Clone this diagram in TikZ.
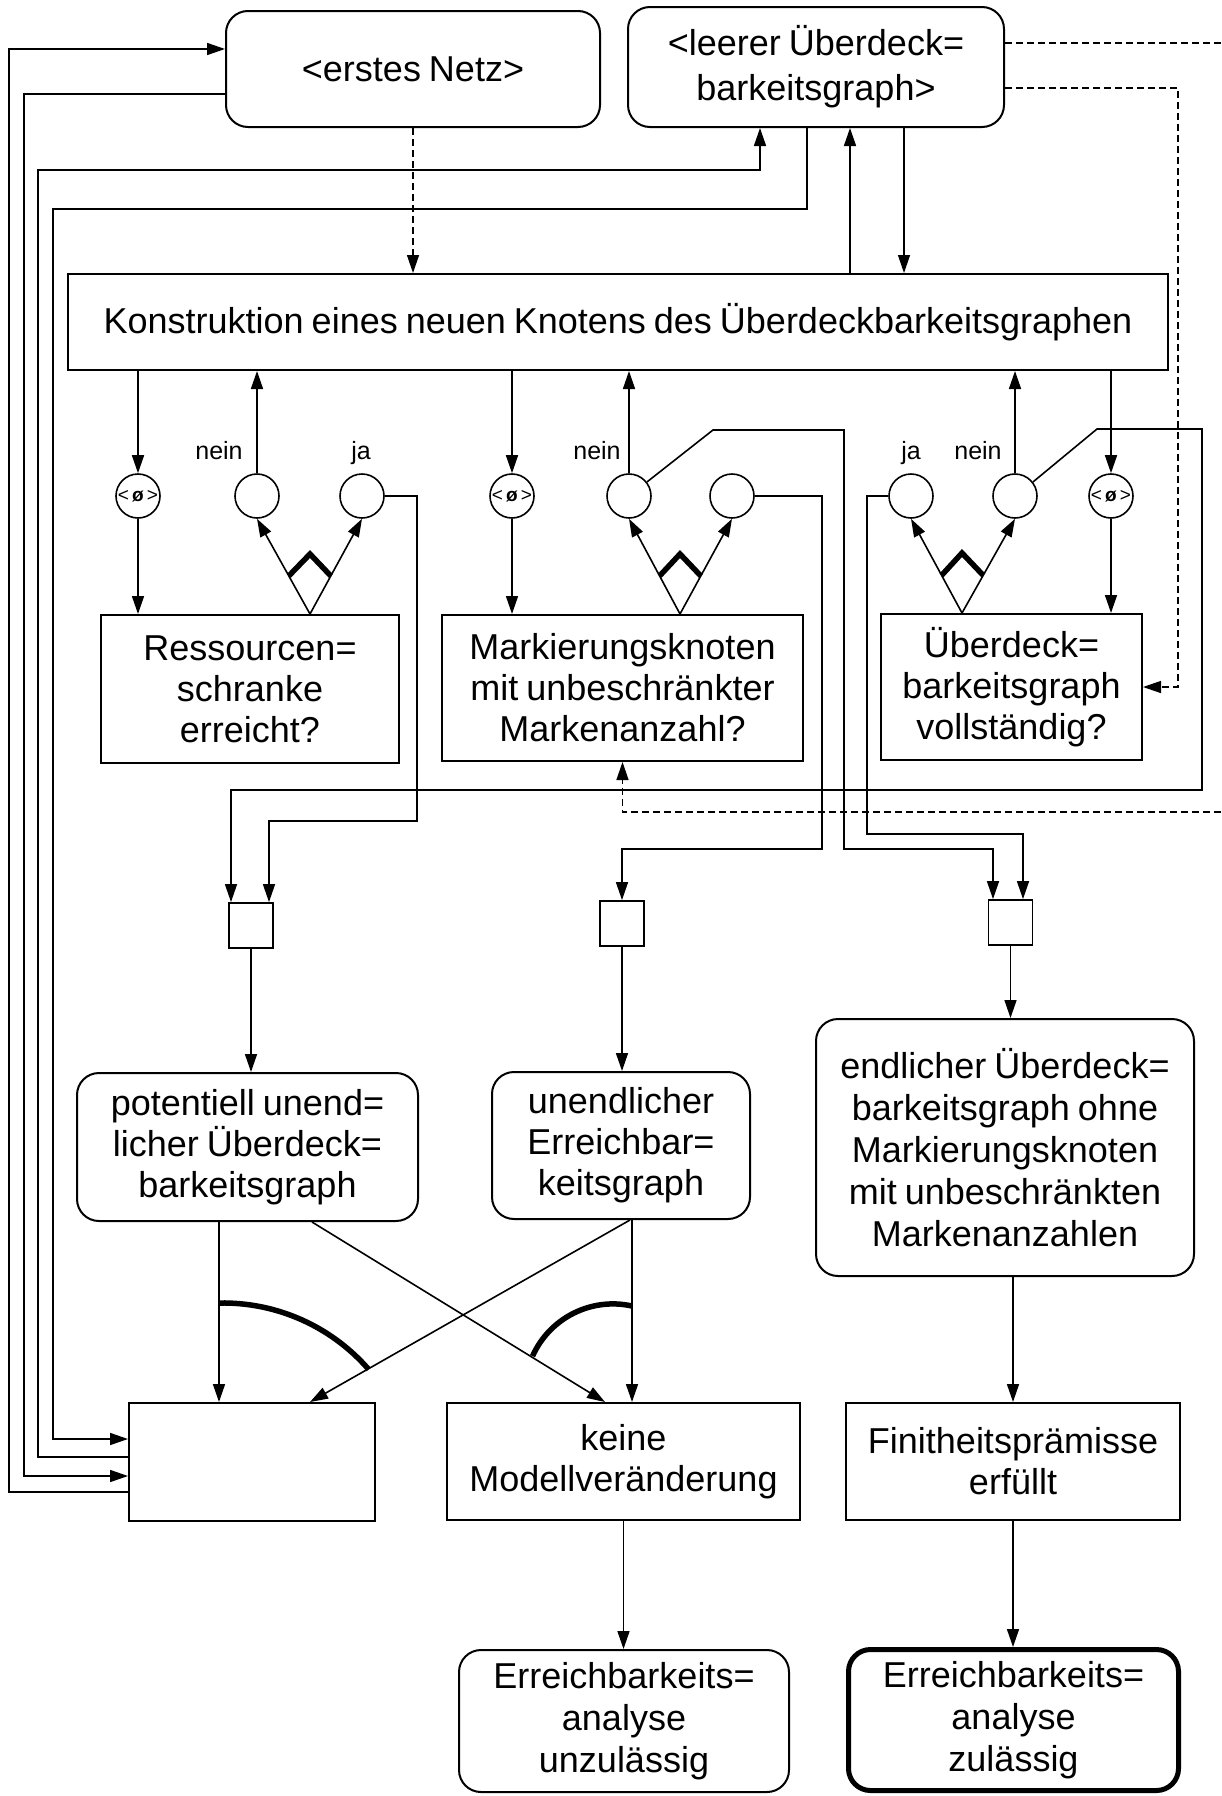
\documentclass[tikz,border=0pt]{standalone}
\usepackage{fontspec}
\setmainfont{Liberation Sans}[WordSpace=0.8]
\usetikzlibrary{arrows.meta,calc}
\begin{document}
\begin{tikzpicture}[x=1pt,y=-1pt,
  txt/.style={font=\fontsize{36}{41}\selectfont, align=center},
  box/.style={draw, line width=2pt, inner sep=0pt, txt},
  rbox/.style={box, rounded corners=22pt},
  dec/.style={circle, draw, line width=1.6pt, minimum size=44pt, inner sep=0pt},
  empt/.style={dec, font=\fontsize{19}{19}\selectfont},
  tok/.style={draw, line width=1.8pt, minimum width=44pt, minimum height=45pt, inner sep=0pt},
  lab/.style={font=\fontsize{25}{28}\selectfont, anchor=base, inner sep=0pt},
  tip/.style={-{Triangle[length=18pt,width=12pt]}},
  ln/.style={line width=1.6pt},
  arr/.style={ln, tip},
  dsh/.style={line width=1.4pt, dash pattern=on 7pt off 4pt},
  darr/.style={dsh, tip},
  xor/.style={line width=5.5pt, line join=miter},
]
\useasboundingbox (0,0) rectangle (1221,1796);

% ---------- start boxes and the construction step ----------
\node[rbox, minimum width=374pt, minimum height=116pt] (erstes) at (413,69) {<erstes Netz>};
\node[rbox, minimum width=376pt, minimum height=120pt, font=\fontsize{36}{45}\selectfont] (leer) at (816,67) {<leerer Überdeck=\\barkeitsgraph>};
\node[box, minimum width=1100pt, minimum height=96pt] (konst) at (618,322) {Konstruktion eines neuen Knotens des Überdeckbarkeitsgraphen};

% ---------- decision boxes ----------
\node[box, minimum width=298pt, minimum height=148pt] (ress) at (250,689) {Ressourcen=\\schranke\\erreicht?};
\node[box, minimum width=361pt, minimum height=146pt] (mark) at (622.5,688) {Markierungsknoten\\mit unbeschränkter\\Markenanzahl?};
\node[box, minimum width=261pt, minimum height=146pt] (ueber) at (1011.5,687) {Überdeck=\\barkeitsgraph\\vollständig?};

% ---------- small circles ----------
\node[empt] (oL) at (138,496) {<\,\textbf{ø}\,>};
\node[dec] (nL) at (257,496) {};
\node[dec] (jL) at (362,496) {};
\node[empt] (oM) at (512,496) {<\,\textbf{ø}\,>};
\node[dec] (nM) at (629,496) {};
\node[dec] (rM) at (732,496) {};
\node[dec] (jR) at (911,496) {};
\node[dec] (nR) at (1015,496) {};
\node[empt] (oR) at (1111,496) {<\,\textbf{ø}\,>};

\node[lab] (tnL) at (219,459) {nein};
\node[lab] (tjL) at (361,459) {ja};
\node[lab] (tnM) at (597,459) {nein};
\node[lab] (tjR) at (911,459) {ja};
\node[lab] (tnR) at (978,459) {nein};

% ---------- token squares ----------
\node[tok] (sqL) at (251,925.5) {};
\node[tok] (sqM) at (622,923.5) {};
\node[tok] (sqR) at (1010.5,922.5) {};

% ---------- result boxes ----------
\node[rbox, minimum width=341pt, minimum height=148pt] (pot) at (247.5,1147) {potentiell unend=\\licher Überdeck=\\barkeitsgraph};
\node[rbox, minimum width=258pt, minimum height=147pt] (unend) at (621,1145.5) {unendlicher\\Erreichbar=\\keitsgraph};
\node[rbox, minimum width=378pt, minimum height=257pt, font=\fontsize{36}{42}\selectfont] (endl) at (1005,1147.5) {endlicher Überdeck=\\barkeitsgraph ohne\\Markierungsknoten\\mit unbeschränkten\\Markenanzahlen};

\node[box, minimum width=246pt, minimum height=118pt] (empty) at (252,1462) {};
\node[box, minimum width=353pt, minimum height=117pt] (keine) at (623.5,1461.5) {keine\\Modellveränderung};
\node[box, minimum width=334pt, minimum height=117pt] (finit) at (1013,1461.5) {Finitheitsprämisse\\erfüllt};

\node[rbox, minimum width=330pt, minimum height=142pt, font=\fontsize{36}{42}\selectfont] (unzul) at (624,1721) {Erreichbarkeits=\\analyse\\unzulässig};
\node[rbox, line width=5pt, minimum width=330pt, minimum height=141pt, font=\fontsize{36}{42}\selectfont] (zul) at (1013.5,1720) {Erreichbarkeits=\\analyse\\zulässig};

% ---------- helper columns and off-page ends ----------
\coordinate (cA) at (760,0);
\coordinate (cB) at (850,0);
\coordinate (cC) at (904,0);
\coordinate (cD) at (219,0);
\coordinate (cE) at (632,0);
\coordinate (cF) at (1013,0);
\coordinate (offA) at (1221,43);
\coordinate (offB) at (1221,812);
\coordinate (dBend) at (1178,687);
\coordinate (fL) at ([xshift=60pt]ress.north);
\coordinate (fM) at ([xshift=57.5pt]mark.north);
\coordinate (fR) at ([xshift=-49.5pt]ueber.north);

% ---------- loops on the left ----------
\draw[arr] ([yshift=-30pt]empty.west) -- ++(-119,0) |- ([yshift=20pt]erstes.west);
\draw[arr] ([yshift=-25pt]erstes.west) -- ++(-201,0) |- ([yshift=-14pt]empty.west);
\draw[arr] ([yshift=5pt]empty.west) -- ++(-90,0) |- (cA |- 0,170) -- (cA |- leer.south);
\draw[arr] ([xshift=-9pt]leer.south) |- (53,209) |- ([yshift=23pt]empty.west);

% ---------- top connections ----------
\draw[darr] (erstes.south) -- (erstes.south |- konst.north);
\draw[arr] (cB |- konst.north) -- (cB |- leer.south);
\draw[tip, line width=1.3pt] (cC |- leer.south) -- (cC |- konst.north);
\draw[dsh] ([yshift=24pt]leer.east) -- (offA);
\draw[darr] ([yshift=-21pt]leer.east) -| (dBend) -- (ueber.east);
\draw[darr] (offB) -| (mark.south);

% ---------- left decision ----------
\draw[arr] (konst.south -| oL) -- (oL);
\draw[arr] (oL) -- (ress.north -| oL);
\draw[arr] (nL) -- (konst.south -| nL);
\draw[arr] (fL) -- (nL.south);
\draw[arr] (fL) -- (jL.south);
\draw[xor] ($(fL)!0.4!(nL.south)$) -- ($(fL)+(0,-60)$) -- ($(fL)!0.4!(jL.south)$);
\draw[arr] (jL.east) -| (417,821) -| ([xshift=18pt]sqL.north);

% ---------- middle decision ----------
\draw[arr] (konst.south -| oM) -- (oM);
\draw[arr] (oM) -- (mark.north -| oM);
\draw[arr] (nM) -- (konst.south -| nM);
\draw[arr] (fM) -- (nM.south);
\draw[arr] (fM) -- (rM.south);
\draw[xor] ($(fM)!0.4!(nM.south)$) -- ($(fM)+(0,-60)$) -- ($(fM)!0.4!(rM.south)$);
\draw[arr] (nM.38) -- (713,430) -| (844,849) -| ([xshift=-17.5pt]sqR.north);
\draw[arr] (rM.east) -| (822,849) -| (sqM.north);

% ---------- right decision ----------
\draw[arr] (konst.south -| oR) -- (oR);
\draw[arr] (oR) -- (ueber.north -| oR);
\draw[arr] (nR) -- (konst.south -| nR);
\draw[arr] (fR) -- (jR.south);
\draw[arr] (fR) -- (nR.south);
\draw[xor] ($(fR)!0.4!(jR.south)$) -- ($(fR)+(0,-60)$) -- ($(fR)!0.4!(nR.south)$);
\draw[arr] (jR.west) -| (867,834) -| ([xshift=12.5pt]sqR.north);
\draw[arr] (nR.38) -- (1097,429) -| (1202,790) -| ([xshift=-20pt]sqL.north);

% ---------- tokens to results ----------
\draw[arr] (sqL.south) -- (sqL.south |- pot.north);
\draw[arr] (sqM.south) -- (sqM.south |- unend.north);
\draw[arr] (sqR.south) -- (sqR.south |- endl.north);

% ---------- results to consequences ----------
\draw[arr] (cD |- pot.south) -- (cD |- empty.north);
\draw[arr] ([xshift=64.5pt]pot.south) -- ([xshift=-18.5pt]keine.north);
\draw[arr] (cE |- unend.south) -- (cE |- keine.north);
\draw[arr] ([xshift=9pt]unend.south) -- ([xshift=58pt]empty.north);
\draw[xor] (219.6,1303) arc[start angle=91, end angle=41, radius=193pt];
\draw[xor] (632,1306) arc[start angle=77.5, end angle=156, radius=88pt];
\draw[arr] (cF |- endl.south) -- (cF |- finit.north);
\draw[arr] (keine.south) -- (keine.south |- unzul.north);
\draw[arr] (finit.south) -- (finit.south |- zul.north);
\end{tikzpicture}
\end{document}
